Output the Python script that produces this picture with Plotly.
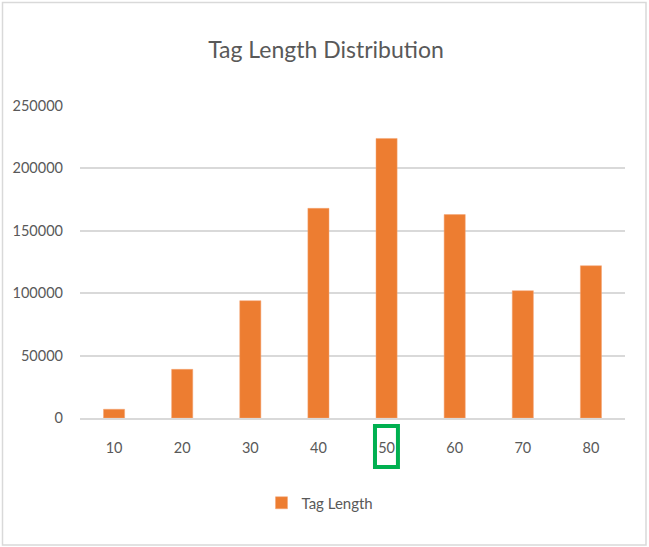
import plotly.graph_objects as go

categories = ["10", "20", "30", "40", "50", "60", "70", "80"]
tag_length = [7000, 39000, 94000, 168000, 224000, 163000, 102000, 122000]
y_ticks = [0, 50000, 100000, 150000, 200000, 250000]
series_name = "Tag Length"
title_text = "Tag Length Distribution"

W, H = 649, 547
L, R, T, B = 80, 24, 106, 129
pw, ph = W - L - R, H - T - B

def px_to_paper_x(px):
    return (px - L) / pw

def px_to_paper_y(py):
    return (H - B - py) / ph

FONT = "Lato, Open Sans, sans-serif"
TXT = "#595959"
GRID = "#D9D9D9"

fig = go.Figure()
fig.add_trace(go.Bar(
    x=categories, y=tag_length, name=series_name,
    marker=dict(color="#ED7D31", line=dict(color="#F4A574", width=0.5)),
    width=0.31, showlegend=True,
))

fig.update_layout(
    width=W, height=H,
    margin=dict(l=L, r=R, t=T, b=B),
    paper_bgcolor="white", plot_bgcolor="white",
    title=dict(text=title_text, x=px_to_paper_x(326), xref="paper", xanchor="center",
               y=1 - 50 / H, yanchor="middle",
               font=dict(family=FONT, size=23, color=TXT)),
    font=dict(family=FONT, color=TXT, size=14.5),
    xaxis=dict(type="category", showgrid=False, showline=True, linecolor=GRID, linewidth=1.5,
               ticks="", tickfont=dict(family=FONT, size=14.5, color=TXT),
               ticklabelstandoff=16, range=[-0.5, 7.5]),
    yaxis=dict(range=[0, 250000], tickvals=y_ticks, ticktext=[str(v) for v in y_ticks],
               showgrid=True, gridcolor=GRID, gridwidth=1.5, zeroline=False,
               showline=False, ticks="", tickfont=dict(family=FONT, size=14.5, color=TXT),
               ticklabelstandoff=16),
    showlegend=True,
    legend=dict(orientation="h", x=px_to_paper_x(320), xanchor="center",
                y=px_to_paper_y(503), yanchor="middle",
                font=dict(family=FONT, size=15, color=TXT),
                itemwidth=30, bgcolor="rgba(0,0,0,0)"),
)

# outer chart border
fig.add_shape(type="rect", xref="paper", yref="paper",
              x0=px_to_paper_x(2.5), x1=px_to_paper_x(646),
              y0=px_to_paper_y(545), y1=px_to_paper_y(2.5),
              line=dict(color="#D9D9D9", width=1.5), fillcolor="rgba(0,0,0,0)", layer="below")

# green highlight box around the "50" category label
fig.add_shape(type="rect", xref="x", yref="paper",
              x0=3.83, x1=4.167,
              y0=px_to_paper_y(467), y1=px_to_paper_y(426),
              line=dict(color="#00B050", width=4), fillcolor="rgba(0,0,0,0)")

fig.write_html("out.html", config={"displayModeBar": False},
               post_script="document.body.style.margin='0';")
